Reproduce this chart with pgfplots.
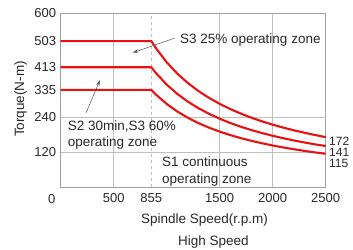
\documentclass[border=0pt]{standalone}
\usepackage{pgfplots}
\pgfplotsset{compat=1.18}
\usepackage{fontspec}
\setmainfont{Liberation Sans}
\usetikzlibrary{arrows.meta}
\definecolor{curvered}{RGB}{232,18,18}
\definecolor{gridgray}{RGB}{190,190,190}
\definecolor{boxgray}{RGB}{160,160,160}
\definecolor{txt}{RGB}{40,40,40}
\begin{document}
\begin{tikzpicture}[x=1pt,y=1pt]
\fontsize{13.5}{16}\selectfont
\begin{axis}[
  scale only axis,
  width=265pt, height=174pt,
  xmin=0, xmax=2500, ymin=0, ymax=600,
  xtick={500,855,1500,2000,2500},
  ytick={120,240,335,413,503,600},
  xticklabels={500,855,1500,2000,2500},
  yticklabels={120,240,335,413,503,600},
  major tick length=0pt,
  axis line style={boxgray, line width=0.8pt},
  tick label style={font=\fontsize{13}{15}\selectfont, text=txt},
  xticklabel style={yshift=-1.5pt},
  /pgf/number format/assume math mode=true,
  clip=false,
  every axis plot/.append style={line join=round},
]
% grid lines
\addplot[gridgray, line width=0.7pt] coordinates {(500,0) (500,600)};
\addplot[gridgray, line width=0.7pt] coordinates {(1500,0) (1500,600)};
\addplot[gridgray, line width=0.7pt] coordinates {(2000,0) (2000,600)};
\addplot[gridgray, line width=0.7pt, dashed] coordinates {(855,0) (855,600)};
\addplot[gridgray, line width=0.7pt] coordinates {(0,120) (2500,120)};
\addplot[gridgray, line width=0.7pt] coordinates {(0,240) (2500,240)};
% S3 25%
\addplot[curvered, line width=2.1pt] coordinates {
(0,503) (855,503) (900,477.9) (1000,430.1) (1100,391.0) (1200,358.4) (1300,330.8)
(1400,307.2) (1500,286.7) (1600,268.8) (1700,253.0) (1800,238.9) (1900,226.3)
(2000,215.0) (2100,204.8) (2200,195.5) (2300,187.0) (2400,179.2) (2500,172.0)};
% S2 / S3 60%
\addplot[curvered, line width=2.1pt] coordinates {
(0,413) (855,413) (900,392.4) (1000,353.1) (1100,321.0) (1200,294.3) (1300,271.6)
(1400,252.2) (1500,235.4) (1600,220.7) (1700,207.7) (1800,196.2) (1900,185.9)
(2000,176.6) (2100,168.2) (2200,160.5) (2300,153.5) (2400,147.1) (2500,141.2)};
% S1
\addplot[curvered, line width=2.1pt] coordinates {
(0,335) (855,335) (900,318.3) (1000,286.4) (1100,260.4) (1200,238.7) (1300,220.3)
(1400,204.6) (1500,191.0) (1600,179.0) (1700,168.5) (1800,159.1) (1900,150.8)
(2000,143.2) (2100,136.4) (2200,130.2) (2300,124.5) (2400,119.3) (2500,114.6)};
\end{axis}
\path[use as bounding box] (-60.7,-62) rectangle (292.3,187);
\begin{scope}[every node/.style={text=txt, inner sep=0pt}]
\node[anchor=center] at (-9,-12.5) {\fontsize{13}{15}\selectfont 0};
\node[anchor=west] at (119.3,147) {S3 25\% operating zone};
\node[anchor=base west] at (7,56.3) {S2 30min,S3 60\%};
\node[anchor=base west] at (7,40.3) {operating zone};
\node[anchor=base west] at (101.3,20.3) {S1 continuous};
\node[anchor=base west] at (101.3,3.7) {operating zone};
\node[anchor=base west] at (268.3,41.5) {\fontsize{12}{13}\selectfont 172};
\node[anchor=base west] at (268.3,30.5) {\fontsize{12}{13}\selectfont 141};
\node[anchor=base west] at (268.3,19.5) {\fontsize{12}{13}\selectfont 115};
\node[rotate=90] at (-40,88) {Torque(N-m)};
\node at (143.8,-33) {Spindle Speed(r.p.m)};
\node at (152.8,-55.5) {High Speed};
\end{scope}
\draw[txt!80, line width=0.5pt, -{Stealth[length=6pt,width=3.5pt]}] (114.3,149) -- (72,134.3);
\draw[txt!80, line width=0.5pt, -{Stealth[length=6pt,width=3.5pt]}] (25.3,74) -- (39.3,107);
\end{tikzpicture}
\end{document}
